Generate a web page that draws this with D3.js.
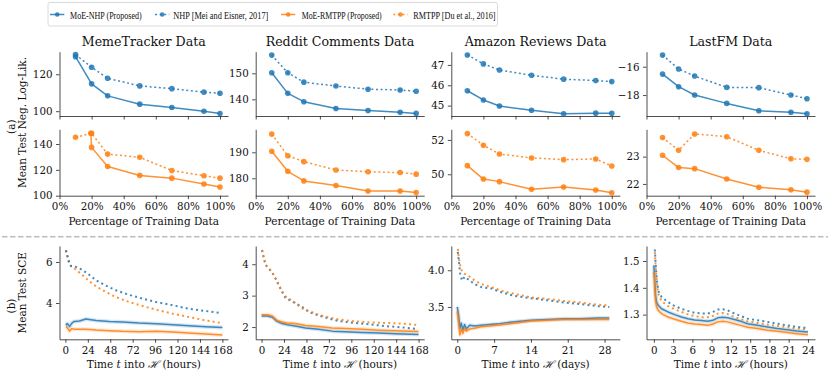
<!DOCTYPE html>
<html>
<head>
<meta charset="utf-8">
<script src="https://cdn.jsdelivr.net/npm/d3@7"></script>
<style>
  body { margin: 0; background: #fff; }
  text { font-family: "DejaVu Serif", serif; fill: #111; }
</style>
</head>
<body>
<div id="chart"></div>
<script>
// ---------- data: (a) test NLL vs percentage of training data ----------
var pct = [10, 20, 30, 50, 70, 90, 100];
var pctTicks = [0, 20, 40, 60, 80, 100];

var memeMoeNhp = [129.5, 114.8, 108.3, 103.8, 102.0, 100.0, 98.7];
var memeNhp = [130.6, 123.8, 117.8, 113.7, 112.2, 110.3, 109.7];
var memeMoeRmtppX = [19.5, 20, 30, 50, 70, 90, 100];
var memeMoeRmtpp = [148.3, 137.4, 122.6, 115.7, 113.6, 109.0, 106.7];
var memeRmtpp = [145.2, 148.3, 132.2, 129.7, 119.5, 115.4, 113.6];

var redditMoeNhp = [150.2, 142.3, 139.1, 136.5, 135.7, 135.0, 134.6];
var redditNhp = [157.0, 150.2, 146.6, 145.1, 143.9, 143.6, 143.1];
var redditMoeRmtpp = [190.4, 182.7, 179.0, 177.2, 175.1, 175.1, 174.5];
var redditRmtpp = [197.0, 188.7, 186.4, 183.2, 182.5, 182.2, 181.6];

var amazonMoeNhp = [45.73, 45.28, 44.98, 44.77, 44.60, 44.63, 44.62];
var amazonNhp = [47.49, 47.05, 46.75, 46.49, 46.30, 46.23, 46.18];
var amazonMoeRmtpp = [50.50, 49.72, 49.57, 49.12, 49.25, 49.08, 48.92];
var amazonRmtpp = [52.37, 51.69, 51.18, 50.95, 50.85, 50.89, 50.48];

var lastfmMoeNhp = [-16.52, -17.41, -18.00, -18.59, -19.11, -19.22, -19.32];
var lastfmNhp = [-15.18, -16.16, -16.66, -17.46, -17.48, -18.00, -18.26];
var lastfmMoeRmtpp = [23.05, 22.60, 22.56, 22.18, 21.88, 21.79, 21.70];
var lastfmRmtpp = [23.70, 23.23, 23.83, 23.73, 23.23, 22.92, 22.90];

// ---------- data: (b) test SCE over time ----------
var memeNhpT = [0.5, 4, 6, 10, 17, 24, 33, 43, 54, 68, 83, 97, 115, 132, 150, 166];
var memeNhpSce = [6.57, 6.0, 5.8, 5.79, 5.64, 5.43, 5.1, 4.86, 4.62, 4.4, 4.21, 4.05, 3.89, 3.72, 3.61, 3.51];
var memeRmtppT = [0.5, 4, 6, 11, 18.5, 25.5, 33, 43, 54, 68, 83, 97, 115, 132, 150, 168];
var memeRmtppSce = [6.57, 5.92, 5.8, 5.64, 5.35, 5.06, 4.81, 4.54, 4.29, 4.05, 3.85, 3.67, 3.48, 3.32, 3.15, 3.02];
var memeMoeT = [0.5, 2, 4.5, 7, 9.5, 15, 22, 33, 47, 61, 79, 97, 115, 132, 150, 168];
var memeMoeNhpSce = [2.91, 3.0, 2.86, 3.02, 3.1, 3.12, 3.22, 3.15, 3.1, 3.07, 3.02, 2.99, 2.94, 2.89, 2.84, 2.8];
var memeMoeRmtppSce = [2.86, 2.8, 2.63, 2.75, 2.72, 2.72, 2.72, 2.68, 2.65, 2.62, 2.6, 2.62, 2.59, 2.54, 2.49, 2.44];

var redditDotT = [0.5, 2.5, 4.5, 8, 11.5, 15, 18.5, 22, 25.5, 31, 36, 43.5, 50.5, 61, 72, 82.5, 97, 114.5, 132.5, 150.5, 166];
var redditRmtppSce = [4.45, 4.18, 3.97, 3.86, 3.73, 3.54, 3.33, 3.14, 2.98, 2.87, 2.77, 2.59, 2.51, 2.39, 2.31, 2.24, 2.19, 2.15, 2.13, 2.11, 2.07];
var redditNhpSce = [4.45, 4.18, 3.97, 3.86, 3.73, 3.54, 3.33, 3.12, 2.93, 2.84, 2.76, 2.64, 2.48, 2.37, 2.27, 2.19, 2.14, 2.09, 2.03, 1.99, 1.94];
var redditMoeT = [0, 6, 11.5, 16.5, 22, 27.5, 36, 47, 61, 75.5, 89.5, 107.5, 125.5, 143, 168];
var redditMoeRmtppSce = [2.39, 2.39, 2.35, 2.21, 2.16, 2.13, 2.11, 2.05, 2.02, 1.97, 1.95, 1.93, 1.9, 1.88, 1.86];
var redditMoeNhpSce = [2.35, 2.35, 2.31, 2.18, 2.11, 2.07, 2.03, 1.97, 1.93, 1.87, 1.85, 1.83, 1.81, 1.79, 1.76];

var amazonDotT = [0.1, 0.3, 0.55, 0.9, 1.4, 2, 3.3, 4.6, 6.5, 8.4, 10.9, 14, 17.2, 20.4, 23.5, 26.7, 28.9];
var amazonRmtppSce = [4.29, 4.16, 4.07, 3.98, 3.95, 3.93, 3.86, 3.81, 3.77, 3.72, 3.68, 3.63, 3.61, 3.58, 3.56, 3.53, 3.52];
var amazonNhpSce = [4.25, 4.12, 3.95, 3.86, 3.91, 3.88, 3.81, 3.77, 3.75, 3.7, 3.65, 3.62, 3.59, 3.56, 3.54, 3.51, 3.5];
var amazonMoeT = [0, 0.25, 0.5, 0.75, 1.05, 1.4, 1.7, 2.35, 3.3, 4.55, 7.7, 10.9, 14, 17.2, 20.4, 23.5, 26.7, 28.9];
var amazonMoeNhpSce = [3.5, 3.38, 3.21, 3.28, 3.19, 3.26, 3.2, 3.25, 3.24, 3.25, 3.27, 3.3, 3.32, 3.33, 3.34, 3.34, 3.35, 3.35];
var amazonMoeRmtppSce = [3.44, 3.28, 3.12, 3.2, 3.14, 3.21, 3.17, 3.2, 3.21, 3.23, 3.25, 3.28, 3.31, 3.32, 3.33, 3.33, 3.33, 3.33];

var lastfmDotT = [0.15, 0.26, 0.41, 0.57, 0.77, 1.2, 2.2, 3.25, 4.3, 5.3, 6.35, 7.4, 8.4, 9.2, 9.95, 10.75, 11.5, 12.55, 13.55, 14.6, 16.15, 17.7, 19.25, 20.8, 22.3, 24];
var lastfmNhpSce = [1.543, 1.496, 1.447, 1.409, 1.384, 1.366, 1.347, 1.332, 1.322, 1.314, 1.307, 1.304, 1.304, 1.31, 1.319, 1.32, 1.316, 1.304, 1.295, 1.285, 1.279, 1.273, 1.266, 1.26, 1.254, 1.25];
var lastfmRmtppSce = [1.533, 1.484, 1.434, 1.397, 1.372, 1.35, 1.332, 1.32, 1.31, 1.301, 1.295, 1.29, 1.29, 1.295, 1.304, 1.306, 1.302, 1.291, 1.283, 1.275, 1.269, 1.263, 1.258, 1.253, 1.248, 1.244];
var lastfmMoeT = [0, 0.15, 0.26, 0.41, 0.67, 1.2, 2.2, 3.25, 4.3, 5.3, 6.35, 7.4, 8.4, 9.2, 9.95, 10.75, 11.5, 12.55, 13.55, 14.6, 16.15, 17.7, 19.25, 20.8, 22.3, 24];
var lastfmMoeNhpSce = [1.484, 1.422, 1.372, 1.347, 1.335, 1.322, 1.31, 1.3, 1.291, 1.285, 1.28, 1.278, 1.275, 1.279, 1.288, 1.29, 1.288, 1.282, 1.275, 1.266, 1.26, 1.254, 1.248, 1.244, 1.239, 1.235];
var lastfmMoeRmtppSce = [1.459, 1.397, 1.353, 1.329, 1.316, 1.304, 1.291, 1.283, 1.275, 1.269, 1.265, 1.263, 1.26, 1.265, 1.273, 1.275, 1.273, 1.266, 1.26, 1.253, 1.248, 1.242, 1.238, 1.233, 1.229, 1.225];

var legendLabels = ["MoE-NHP (Proposed)", "NHP [Mei and Eisner, 2017]", "MoE-RMTPP (Proposed)", "RMTPP [Du et al., 2016]"];
var titles = ["MemeTracker Data", "Reddit Comments Data", "Amazon Reviews Data", "LastFM Data"];

// ---------- layout ----------
var blue = "#1f77b4", orange = "#ff7f0e";
var lefts = [59.5, 255.7, 451.3, 646.5], W = 168.5;
var topY = [51.7, 116], botY = [129.3, 195.7], sceY = [246, 339.3];

var svg = d3.select("#chart").append("svg")
    .attr("width", 830).attr("height", 379);

function styleAxis(g, noLabels) {
    g.attr("font-family", "DejaVu Serif").attr("font-size", 10.3);
    g.selectAll(".tick text").attr("fill", "#111");
    if (noLabels) g.selectAll(".tick text").remove();
    g.selectAll(".tick line").attr("stroke", "#222").attr("stroke-width", 0.8);
    g.select(".domain").attr("stroke", "#222").attr("stroke-width", 0.8);
}

function drawSeries(x, y, xs, ys, color, dotted, markers, width) {
    var pts = xs.map(function (d, i) { return [d, ys[i]]; });
    var line = d3.line().x(function (d) { return x(d[0]); }).y(function (d) { return y(d[1]); });
    if (!dotted && !markers) {
        // faint band around the proposed models
        svg.append("path").attr("d", line(pts)).attr("fill", "none")
            .attr("stroke", color).attr("stroke-width", 4).attr("stroke-opacity", 0.18)
            .attr("stroke-linejoin", "round");
    }
    svg.append("path")
        .attr("d", line(pts))
        .attr("fill", "none")
        .attr("stroke", color)
        .attr("stroke-opacity", 0.85)
        .attr("stroke-width", width)
        .attr("stroke-dasharray", dotted ? (markers ? "2,2.6" : "2,3.2") : null)
        .attr("stroke-linejoin", "round");
    if (markers) {
        svg.selectAll(null).data(pts).enter().append("circle")
            .attr("cx", function (d) { return x(d[0]); })
            .attr("cy", function (d) { return y(d[1]); })
            .attr("r", 2.8)
            .attr("fill", color).attr("fill-opacity", 0.85);
    }
}

// ---------- row (a) ----------
function drawNll(i, topDomain, topTicks, topSeries, botDomain, botTicks, botSeries, topFmt) {
    var L = lefts[i];
    var x = d3.scaleLinear().domain([0, 105]).range([L, L + W]);
    var yT = d3.scaleLinear().domain(topDomain).range([topY[1], topY[0]]);
    var yB = d3.scaleLinear().domain(botDomain).range([botY[1], botY[0]]);

    svg.append("text").attr("x", L + W / 2).attr("y", 46)
        .attr("text-anchor", "middle").style("font-size", "12.6px").text(titles[i]);

    svg.append("g").attr("transform", "translate(" + L + ",0)")
        .call(d3.axisLeft(yT).tickValues(topTicks).tickSize(3.5).tickPadding(3.5).tickSizeOuter(0)
            .tickFormat(d3.format(topFmt || "d")))
        .call(styleAxis);
    svg.append("g").attr("transform", "translate(0," + topY[1] + ")")
        .call(d3.axisBottom(x).tickValues(pctTicks).tickSize(3.5).tickSizeOuter(0))
        .call(function (g) { styleAxis(g, true); });

    svg.append("g").attr("transform", "translate(" + L + ",0)")
        .call(d3.axisLeft(yB).tickValues(botTicks).tickSize(3.5).tickPadding(3.5).tickSizeOuter(0)
            .tickFormat(d3.format("d")))
        .call(styleAxis);
    svg.append("g").attr("transform", "translate(0," + botY[1] + ")")
        .call(d3.axisBottom(x).tickValues(pctTicks).tickSize(3.5).tickPadding(3.5).tickSizeOuter(0)
            .tickFormat(function (d) { return d + "%"; }))
        .call(styleAxis);

    svg.append("text").attr("x", L + W / 2).attr("y", 225)
        .attr("text-anchor", "middle").style("font-size", "10.5px").text("Percentage of Training Data");

    topSeries.forEach(function (s) { drawSeries(x, yT, s[0], s[1], blue, s[2], true, 1.5); });
    botSeries.forEach(function (s) { drawSeries(x, yB, s[0], s[1], orange, s[2], true, 1.5); });
}

drawNll(0, [97.4, 132.2], [100, 120], [[pct, memeNhp, true], [pct, memeMoeNhp, false]],
    [100, 151.4], [100, 120, 140], [[pct, memeRmtpp, true], [memeMoeRmtppX, memeMoeRmtpp, false]]);
drawNll(1, [133.6, 158.3], [140, 150], [[pct, redditNhp, true], [pct, redditMoeNhp, false]],
    [173.3, 198.85], [180, 190], [[pct, redditRmtpp, true], [pct, redditMoeRmtpp, false]]);
drawNll(2, [44.49, 47.65], [45, 46, 47], [[pct, amazonNhp, true], [pct, amazonMoeNhp, false]],
    [48.75, 52.62], [50, 52], [[pct, amazonRmtpp, true], [pct, amazonMoeRmtpp, false]]);
drawNll(3, [-19.48, -14.94], [-18, -16], [[pct, lastfmNhp, true], [pct, lastfmMoeNhp, false]],
    [21.57, 24.0], [22, 23], [[pct, lastfmRmtpp, true], [pct, lastfmMoeRmtpp, false]]);

// ---------- row (b) ----------
function drawSce(i, xDomain, xTicks, yDomain, yTicks, yFmt, unit, series) {
    var L = lefts[i];
    var x = d3.scaleLinear().domain(xDomain).range([L, L + W]);
    var y = d3.scaleLinear().domain(yDomain).range([sceY[1], sceY[0]]);

    svg.append("g").attr("transform", "translate(" + L + ",0)")
        .call(d3.axisLeft(y).tickValues(yTicks).tickSize(3.5).tickPadding(3.5).tickSizeOuter(0)
            .tickFormat(d3.format(yFmt)))
        .call(styleAxis);
    svg.append("g").attr("transform", "translate(0," + sceY[1] + ")")
        .call(d3.axisBottom(x).tickValues(xTicks).tickSize(3.5).tickPadding(3.5).tickSizeOuter(0)
            .tickFormat(d3.format("d")))
        .call(styleAxis);

    var lab = svg.append("text").attr("x", L + W / 2).attr("y", 367.5)
        .attr("text-anchor", "middle").style("font-size", "10.5px");
    lab.append("tspan").text("Time ");
    lab.append("tspan").style("font-style", "italic").text("t");
    lab.append("tspan").text(" into ");
    lab.append("tspan").style("font-style", "italic").text("ℋ");
    lab.append("tspan").text(" (" + unit + ")");

    series.forEach(function (s) { drawSeries(x, y, s[0], s[1], s[2], s[3], false, s[3] ? 2 : 1.5); });
}

var hourTicks = [0, 24, 48, 72, 96, 120, 144, 168];
drawSce(0, [-6.3, 174], hourTicks, [2.23, 6.78], [4, 6], "d", "hours", [
    [memeMoeT, memeMoeRmtppSce, orange, false], [memeMoeT, memeMoeNhpSce, blue, false],
    [memeRmtppT, memeRmtppSce, orange, true], [memeNhpT, memeNhpSce, blue, true]]);
drawSce(1, [-6.3, 174], hourTicks, [1.61, 4.58], [2, 3, 4], "d", "hours", [
    [redditMoeT, redditMoeNhpSce, blue, false], [redditMoeT, redditMoeRmtppSce, orange, false],
    [redditDotT, redditNhpSce, blue, true], [redditDotT, redditRmtppSce, orange, true]]);
drawSce(2, [-1.14, 30.9], [0, 7, 14, 21, 28], [3.06, 4.33], [3.5, 4.0], ".1f", "days", [
    [amazonMoeT, amazonMoeNhpSce, blue, false], [amazonMoeT, amazonMoeRmtppSce, orange, false],
    [amazonDotT, amazonNhpSce, blue, true], [amazonDotT, amazonRmtppSce, orange, true]]);
drawSce(3, [-1.15, 25.1], [0, 3, 6, 9, 12, 15, 18, 21, 24], [1.208, 1.556], [1.3, 1.4, 1.5], ".1f", "hours", [
    [lastfmMoeT, lastfmMoeNhpSce, blue, false], [lastfmMoeT, lastfmMoeRmtppSce, orange, false],
    [lastfmDotT, lastfmRmtppSce, orange, true], [lastfmDotT, lastfmNhpSce, blue, true]]);

// ---------- y labels ----------
function vlabel(txt, x, y) {
    svg.append("text").attr("transform", "translate(" + x + "," + y + ") rotate(-90)")
        .attr("text-anchor", "middle").style("font-size", "10.5px").text(txt);
}
vlabel("(a)", 15, 126.7);
vlabel("Mean Test Neg. Log-Lik.", 25.8, 122.5);
vlabel("(b)", 15, 306);
vlabel("Mean Test SCE", 26, 292.8);

// ---------- dashed separator ----------
svg.append("line").attr("x1", 2).attr("x2", 828).attr("y1", 236.8).attr("y2", 236.8)
    .attr("stroke", "#bdbdbd").attr("stroke-width", 1.4).attr("stroke-dasharray", "5.5,2.5");

// ---------- legend ----------
svg.append("rect").attr("x", 48).attr("y", 2.5).attr("width", 449.5).attr("height", 23.5)
    .attr("rx", 2).attr("fill", "#fff").attr("stroke", "#d0d0d0").attr("stroke-width", 0.8);
var legX = [50, 155, 281, 393.3], legTextX = [70, 173.3, 301.7, 413.3], legLen = [71.7, 95, 80, 82.3];
var legColor = [blue, blue, orange, orange], legDotted = [false, true, false, true];
legendLabels.forEach(function (lbl, i) {
    svg.append("line").attr("x1", legX[i]).attr("x2", legX[i] + 14.3).attr("y1", 14.5).attr("y2", 14.5)
        .attr("stroke", legColor[i]).attr("stroke-opacity", 0.85).attr("stroke-width", 1.5)
        .attr("stroke-dasharray", legDotted[i] ? "2,2.6" : null);
    svg.append("circle").attr("cx", legX[i] + 7.2).attr("cy", 14.5).attr("r", 2.3)
        .attr("fill", legColor[i]).attr("fill-opacity", 0.85);
    svg.append("text").attr("x", legTextX[i]).attr("y", 18.8)
        .attr("textLength", legLen[i]).attr("lengthAdjust", "spacingAndGlyphs")
        .style("font-family", "'Liberation Serif', serif")
        .style("font-size", "10.4px").text(lbl);
});
</script>
</body>
</html>
